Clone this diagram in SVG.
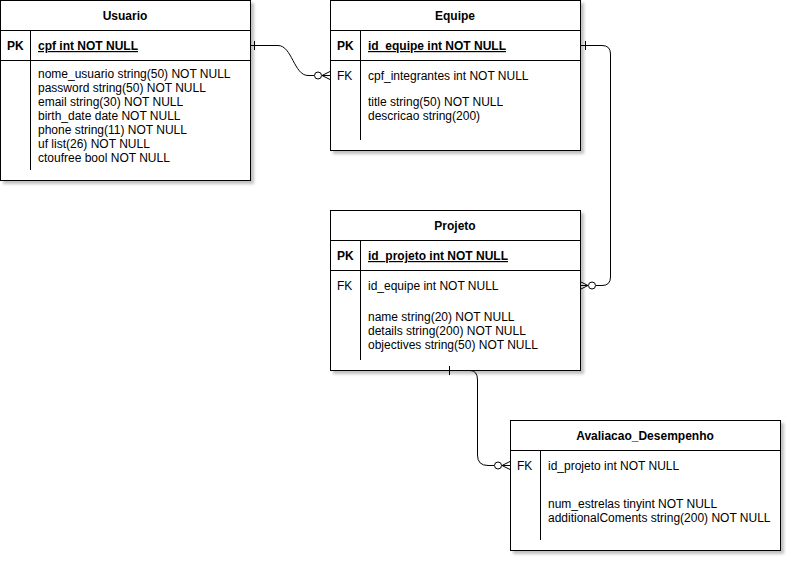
<svg xmlns="http://www.w3.org/2000/svg" width="792" height="562" viewBox="0 0 792 562">
  <defs>
    <filter id="shadow" x="-5%" y="-5%" width="115%" height="115%">
      <feGaussianBlur in="SourceAlpha" stdDeviation="1.5"/>
      <feOffset dx="3" dy="3" result="off"/>
      <feComponentTransfer><feFuncA type="linear" slope="0.25"/></feComponentTransfer>
      <feMerge><feMergeNode/><feMergeNode in="SourceGraphic"/></feMerge>
    </filter>
  </defs>
  <style>
    text { font-family: "Liberation Sans", Arial, Helvetica, sans-serif; font-size: 12px; fill: #000; }
    .title { text-anchor: middle; font-weight: bold; }
    .key { font-weight: bold; }
    .pk { font-weight: bold; text-decoration: underline; }
    .box { fill: #fff; stroke: #000; stroke-width: 1; }
    .ln { stroke: #000; stroke-width: 1; fill: none; }
    .conn path, .conn line { stroke: #000; stroke-width: 1; fill: none; }
    .conn circle { stroke: #000; stroke-width: 1; fill: #fff; }
  </style>
  <rect width="792" height="562" fill="#fff"/>

  <!-- Usuario -->
  <g id="usuario">
    <rect class="box" x="0.5" y="0.5" width="250" height="180" filter="url(#shadow)"/>
    <line class="ln" x1="0" y1="30.5" x2="250" y2="30.5"/>
    <line class="ln" x1="0" y1="60.5" x2="250" y2="60.5"/>
    <line class="ln" x1="30.5" y1="30" x2="30.5" y2="170"/>
    <text class="title" x="125" y="20">Usuario</text>
    <text class="key" x="7" y="50">PK</text>
    <text class="pk" x="38" y="50">cpf int NOT NULL</text>
    <text x="38" y="78">nome_usuario string(50) NOT NULL</text>
    <text x="38" y="92">password string(50) NOT NULL</text>
    <text x="38" y="106">email string(30) NOT NULL</text>
    <text x="38" y="120">birth_date date NOT NULL</text>
    <text x="38" y="134">phone string(11) NOT NULL</text>
    <text x="38" y="148">uf list(26) NOT NULL</text>
    <text x="38" y="162">ctoufree bool NOT NULL</text>
  </g>

  <!-- Equipe -->
  <g id="equipe">
    <rect class="box" x="330.5" y="0.5" width="250" height="150" filter="url(#shadow)"/>
    <line class="ln" x1="330" y1="30.5" x2="580" y2="30.5"/>
    <line class="ln" x1="330" y1="60.5" x2="580" y2="60.5"/>
    <line class="ln" x1="360.5" y1="30" x2="360.5" y2="140"/>
    <text class="title" x="455" y="20">Equipe</text>
    <text class="key" x="337" y="50">PK</text>
    <text class="pk" x="368" y="50">id_equipe int NOT NULL</text>
    <text x="337" y="80">FK</text>
    <text x="368" y="80">cpf_integrantes int NOT NULL</text>
    <text x="368" y="106">title string(50) NOT NULL</text>
    <text x="368" y="120">descricao string(200)</text>
  </g>

  <!-- Projeto -->
  <g id="projeto">
    <rect class="box" x="330.5" y="210.5" width="250" height="160" filter="url(#shadow)"/>
    <line class="ln" x1="330" y1="240.5" x2="580" y2="240.5"/>
    <line class="ln" x1="330" y1="270.5" x2="580" y2="270.5"/>
    <line class="ln" x1="360.5" y1="240" x2="360.5" y2="360"/>
    <text class="title" x="455" y="230">Projeto</text>
    <text class="key" x="337" y="260">PK</text>
    <text class="pk" x="368" y="260">id_projeto int NOT NULL</text>
    <text x="337" y="290">FK</text>
    <text x="368" y="290">id_equipe int NOT NULL</text>
    <text x="368" y="321">name string(20) NOT NULL</text>
    <text x="368" y="335">details string(200) NOT NULL</text>
    <text x="368" y="349">objectives string(50) NOT NULL</text>
  </g>

  <!-- Avaliacao_Desempenho -->
  <g id="avaliacao">
    <rect class="box" x="510.5" y="420.5" width="270" height="130" filter="url(#shadow)"/>
    <line class="ln" x1="510" y1="450.5" x2="780" y2="450.5"/>
    <line class="ln" x1="540.5" y1="450" x2="540.5" y2="540"/>
    <text class="title" x="645" y="440">Avaliacao_Desempenho</text>
    <text x="517" y="470">FK</text>
    <text x="548" y="470">id_projeto int NOT NULL</text>
    <text x="548" y="508">num_estrelas tinyint NOT NULL</text>
    <text x="548" y="522">additionalComents string(200) NOT NULL</text>
  </g>

  <!-- Relationships -->
  <g id="connectors" class="conn">
    <!-- Usuario.cpf 1 : N Equipe.cpf_integrantes -->
    <path d="M250,45.5 H278 C292,45.5 294,75.5 308,75.5 H314"/>
    <line x1="254.5" y1="41" x2="254.5" y2="50"/>
    <circle cx="318" cy="75.5" r="3.5"/>
    <path d="M322,75.5 L330,71.5 M322,75.5 H330 M322,75.5 L330,79.5"/>

    <!-- Equipe.id_equipe 1 : N Projeto.id_equipe -->
    <path d="M580,45.5 H602 Q610.5,45.5 610.5,54 V277 Q610.5,285.5 602,285.5 H596"/>
    <line x1="585.5" y1="41" x2="585.5" y2="50"/>
    <circle cx="592" cy="285.5" r="3.5"/>
    <path d="M588,285.5 L580,281.5 M588,285.5 H580 M588,285.5 L580,289.5"/>

    <!-- Projeto.id_projeto 1 : N Avaliacao_Desempenho.id_projeto -->
    <path d="M445,370.5 H470 Q477.5,370.5 477.5,380 V455 Q477.5,465.5 488,465.5 H494"/>
    <line x1="449.5" y1="366" x2="449.5" y2="375"/>
    <circle cx="498" cy="465.5" r="3.5"/>
    <path d="M502,465.5 L510,461.5 M502,465.5 H510 M502,465.5 L510,469.5"/>
  </g>
</svg>
